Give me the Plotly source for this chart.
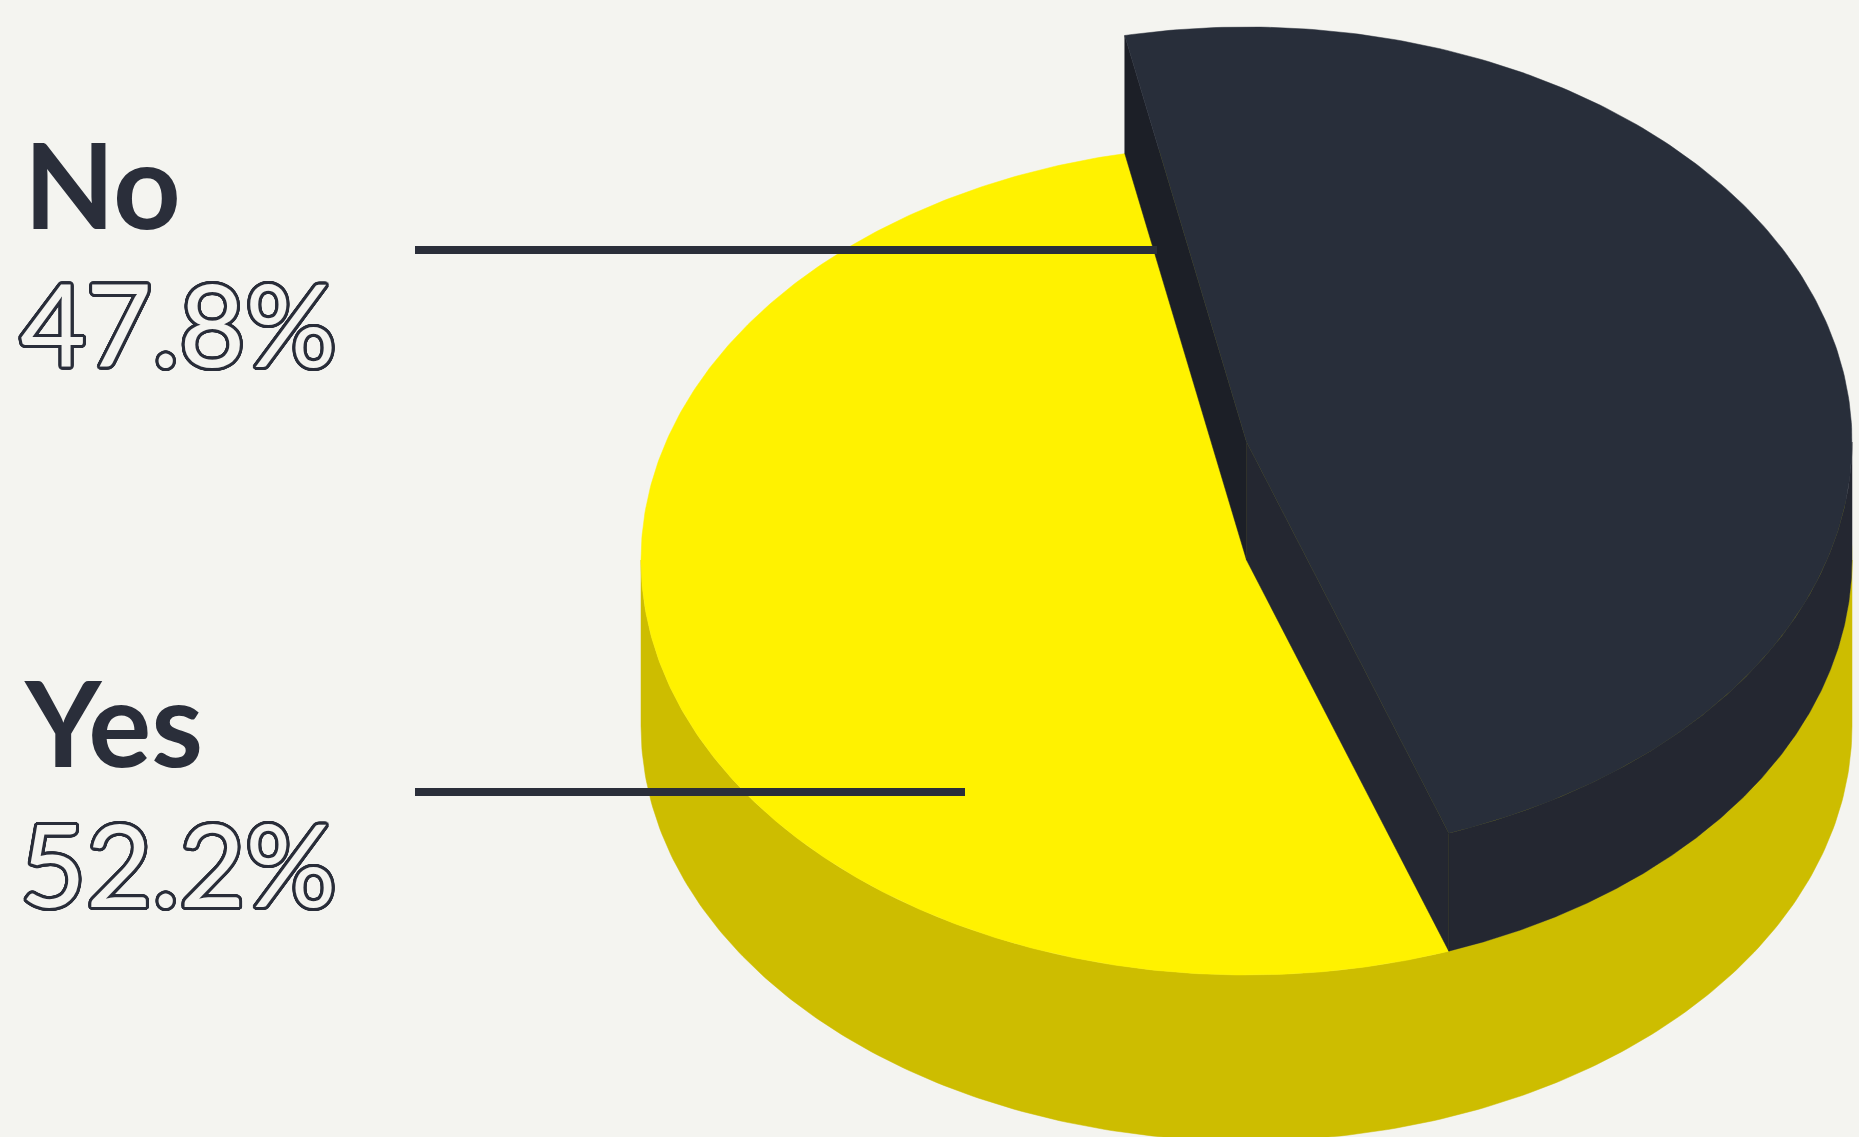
import math
import plotly.graph_objects as go

# Poll results
labels = ["No", "Yes"]
shares = [47.8, 52.2]
share_text = ["47.8%", "52.2%"]

# Page / drawing constants (pixel space)
W, H = 1859, 1137
BG = "#f4f4f0"
INK = "#2a2e3a"
CX, CY = 1246.5, 560.0      # centre of the top face
RX, RY = 605.5, 415.0       # radii of the top ellipse
DEPTH = 166.0               # thickness of the disc
LIFT = 118.0                # height of the raised slice
START = -11.6               # start angle of the "No" slice (deg, clockwise from 12 o'clock)

YELLOW_TOP = "#fff200"
YELLOW_SIDE = "#cdbd00"
DARK_TOP = "#282e3a"
DARK_FACE_L = "#1c1f27"
DARK_FACE_R = "#242731"


def pt(theta_deg, z=0.0, r=1.0):
    t = math.radians(theta_deg)
    return CX + r * RX * math.sin(t), CY - r * RY * math.cos(t) - z


def arc(a0, a1, z=0.0, n=240):
    xs, ys = [], []
    for i in range(n + 1):
        x, y = pt(a0 + (a1 - a0) * i / n, z)
        xs.append(x)
        ys.append(y)
    return xs, ys


def poly(xs, ys, color):
    return go.Scatter(x=xs + [xs[0]], y=ys + [ys[0]], mode="lines", fill="toself",
                      fillcolor=color, line=dict(width=0.5, color=color),
                      hoverinfo="skip", showlegend=False)


fig = go.Figure()

# Disc side wall (front half)
fx, fy = arc(90, 270, 0)
bx, by = arc(270, 90, -DEPTH)
fig.add_trace(poly(fx + bx, fy + by, YELLOW_SIDE))

# Disc top face
tx, ty = arc(0, 360, 0, n=720)
fig.add_trace(poly(tx, ty, YELLOW_TOP))

# Raised "No" slice, angles taken from its share
total = sum(shares)
a0 = START
a1 = START + 360.0 * shares[0] / total

# outer wall on the visible (front) side
w0 = max(a0, 90.0)
w1 = min(a1, 270.0)
if w1 > w0:
    ux, uy = arc(w0, w1, LIFT)
    lx, ly = arc(w1, w0, 0)
    fig.add_trace(poly(ux + lx, uy + ly, DARK_FACE_R))

# radial faces
for ang, col in ((a0, DARK_FACE_L), (a1, DARK_FACE_R)):
    c0 = pt(ang, 0, 0)
    c1 = pt(ang, LIFT, 0)
    r1 = pt(ang, LIFT)
    r0 = pt(ang, 0)
    fig.add_trace(poly([c0[0], c1[0], r1[0], r0[0]], [c0[1], c1[1], r1[1], r0[1]], col))

# top of the slice
sx, sy = arc(a0, a1, LIFT)
cx_, cy_ = pt(0, LIFT, 0)
fig.add_trace(poly([cx_] + sx, [cy_] + sy, DARK_TOP))

# Leader lines
leaders = [(415, 1157, 250), (415, 965, 792)]
for x0, x1, y in leaders:
    fig.add_shape(type="line", x0=x0, x1=x1, y0=y, y1=y, xref="x", yref="y",
                  line=dict(color=INK, width=8))

# Outlined percentage text via a ring of text shadows
ring = []
for k in range(32):
    t = 2 * math.pi * k / 32
    ring.append(f"{3.0 * math.cos(t):.2f}px {3.0 * math.sin(t):.2f}px 0 {INK}")
OUTLINE = ", ".join(ring)

label_y = [183, 721]
pct_y = [322, 862]
for lab, pct, ly, py in zip(labels, share_text, label_y, pct_y):
    fig.add_annotation(x=22, y=ly, xref="x", yref="y", text=lab, showarrow=False,
                       xanchor="left", yanchor="middle",
                       font=dict(family="Lato", size=118, color=INK, weight=700))
    fig.add_annotation(x=18, y=py, xref="x", yref="y", text=pct, showarrow=False,
                       xanchor="left", yanchor="middle",
                       font=dict(family="Lato", size=114, color=BG, weight=400,
                                 shadow=OUTLINE))

fig.update_layout(
    width=W, height=H, autosize=False,
    margin=dict(l=0, r=0, t=0, b=0),
    paper_bgcolor=BG, plot_bgcolor=BG,
    xaxis=dict(range=[0, W], visible=False, fixedrange=True),
    yaxis=dict(range=[H, 0], visible=False, fixedrange=True),
    showlegend=False,
)

fig.write_html("out.html")
